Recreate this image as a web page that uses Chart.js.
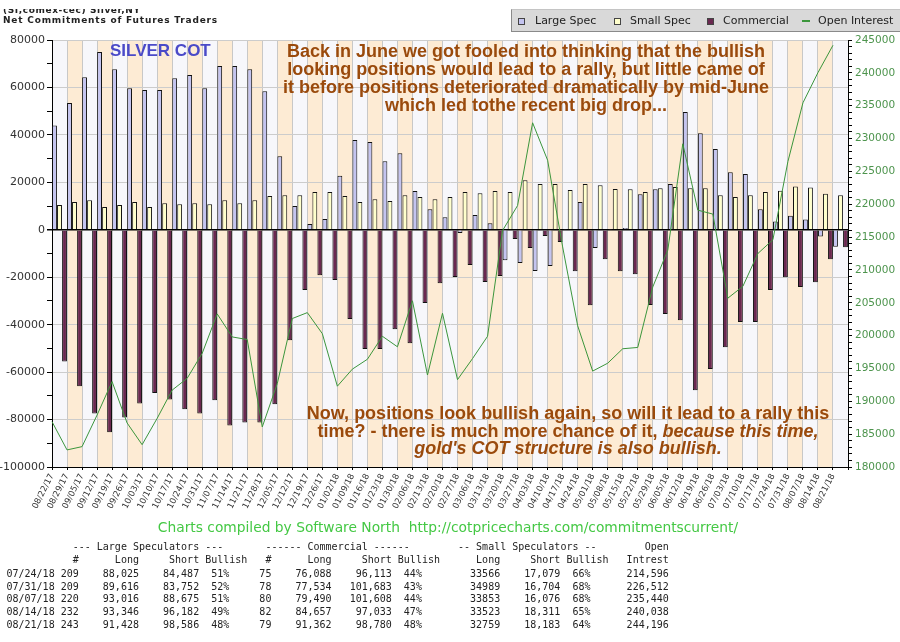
<!DOCTYPE html>
<html>
<head>
<meta charset="utf-8">
<script src="https://cdn.jsdelivr.net/npm/chart.js@4.4.1/dist/chart.umd.min.js"></script>
<style>
html,body{margin:0;padding:0;background:#fff;}
body{width:900px;height:642px;overflow:hidden;position:relative;font-family:"DejaVu Sans",sans-serif;}
#c{position:absolute;left:0;top:0;}
.ov{position:absolute;white-space:pre;}
.brown{font-family:"Liberation Sans",Arial,sans-serif;font-weight:bold;font-size:18px;color:#9a4a0c;text-align:center;white-space:pre;position:absolute;}
.leg{position:absolute;top:0;height:21px;line-height:21px;font-size:11px;color:#222;font-family:"DejaVu Sans",sans-serif;}
.ico{position:absolute;top:8px;width:5px;height:5px;border:1px solid #444;}
.tb{position:absolute;left:6.5px;font-family:"DejaVu Sans Mono",monospace;font-size:10px;line-height:12px;height:12px;color:#222;white-space:pre;}
</style>
</head>
<body>
<canvas id="c" width="900" height="642"></canvas>

<div class="ov" style="left:3px;top:9px;height:7px;overflow:hidden;"><div style="position:relative;top:-3px;font:bold 9px 'DejaVu Sans';line-height:9px;letter-spacing:0.6px;color:#222;">(SI,comex-cec) Silver,NY</div></div>
<div class="ov" style="left:3px;top:15.7px;font:bold 9px 'DejaVu Sans';line-height:9px;letter-spacing:0.8px;color:#222;">Net Commitments of Futures Traders</div>

<div id="legend" style="position:absolute;left:511px;top:9px;width:389px;height:21px;background:#d9d9d9;border-left:1px solid #8a8a8a;border-bottom:1px solid #8a8a8a;border-top:1px solid #c4c4c4;">
  <div class="ico" style="left:6px;background:#c4c4f0;"></div><div class="leg" style="left:23px;">Large Spec</div>
  <div class="ico" style="left:102px;background:#ffffcc;"></div><div class="leg" style="left:118px;">Small Spec</div>
  <div class="ico" style="left:195px;background:#6a2850;"></div><div class="leg" style="left:211px;">Commercial</div>
  <div style="position:absolute;left:290px;top:10px;width:8px;height:2px;background:#3c963c;"></div><div class="leg" style="left:306px;">Open Interest</div>
</div>

<div class="ov" style="left:110px;top:42.1px;font-family:'Liberation Sans',Arial,sans-serif;font-weight:bold;font-size:17px;line-height:18px;color:#4a4ac8;">SILVER COT</div>

<div class="brown" style="left:226px;width:600px;top:41.8px;line-height:18px;">Back in June we got fooled into thinking that the bullish
looking positions would lead to a rally, but little came of
it before positions deteriorated dramatically by mid-June
which led tothe recent big drop...</div>

<div class="brown" style="left:268px;width:600px;top:405px;line-height:17.5px;">Now, positions look bullish again, so will it lead to a rally this
time? - there is much more chance of it, <i>because this time,</i>
<i>gold's COT structure is also bullish.</i></div>

<div class="ov" style="left:0;width:900px;top:517.5px;text-align:center;font-family:'DejaVu Sans';font-size:13.8px;line-height:18px;color:#44c844;"><span style="position:relative;left:-2px;">Charts compiled by Software North  http://cotpricecharts.com/commitmentscurrent/</span></div>

<div id="table"></div>

<script>
// ---------------- data ----------------
const dates = ['08/22/17','08/29/17','09/05/17','09/12/17','09/19/17','09/26/17','10/03/17','10/10/17','10/17/17','10/24/17','10/31/17','11/07/17','11/14/17','11/21/17','11/28/17','12/05/17','12/12/17','12/19/17','12/26/17','01/02/18','01/09/18','01/16/18','01/23/18','01/30/18','02/06/18','02/13/18','02/20/18','02/27/18','03/06/18','03/13/18','03/20/18','03/27/18','04/03/18','04/10/18','04/17/18','04/24/18','05/01/18','05/08/18','05/15/18','05/22/18','05/29/18','06/05/18','06/12/18','06/19/18','06/26/18','07/03/18','07/10/18','07/17/18','07/24/18','07/31/18','08/07/18','08/14/18','08/21/18'];

const largeSpec = [44000,53400,64350,74900,67700,59700,58900,58900,63900,65200,59700,69000,69000,67700,58400,31000,10000,2400,4500,22800,37800,36950,28900,32300,16300,8700,5300,-1400,6200,2800,-12800,-14050,-17400,-15300,200,11700,-7700,200,800,15000,17100,19250,49600,40700,34000,24300,23500,8700,3538,5864,4341,-2836,-7158];

const smallSpec = [10400,11700,12500,9550,10400,11700,9550,11200,10800,11200,10800,12500,11200,12500,14200,14600,14600,15900,15900,14200,11700,12900,12100,14600,13800,12900,13800,15900,15450,16300,15900,20900,19250,19250,16800,19250,18800,17200,17100,15900,17550,18000,17550,17550,14600,13800,14600,15900,16487,18285,17777,15212,14576];

const commercial = [-55500,-66000,-77400,-85400,-79100,-73200,-68800,-71500,-75700,-77400,-71900,-82500,-81200,-81200,-73600,-46600,-25400,-19200,-21200,-37650,-50300,-50300,-41900,-47800,-30900,-22500,-19950,-14900,-22050,-19500,-3900,-7700,-2600,-5200,-17500,-31800,-12400,-17500,-18700,-31750,-35500,-38100,-67600,-58700,-49500,-38900,-38900,-25400,-20025,-24149,-22118,-12376,-7418];

const openInterest = [186900,182600,183100,187900,193000,186700,183400,187400,191700,193500,197300,203300,199800,199400,186100,192700,202600,203500,200300,192300,194900,196400,199900,198300,205300,194000,203400,193300,196500,199900,216000,219800,232400,226700,213500,201500,194600,195800,198000,198200,207400,213000,229200,219100,218500,205700,207500,212500,214596,226512,235440,240038,244196];

// table values
const tableDates = ['07/24/18','07/31/18','08/07/18','08/14/18','08/21/18'];
const lsNum   = ['209','209','220','232','243'];
const lsLong  = ['88,025','89,616','93,016','93,346','91,428'];
const lsShort = ['84,487','83,752','88,675','96,182','98,586'];
const lsBull  = ['51%','52%','51%','49%','48%'];
const cmNum   = ['75','78','80','82','79'];
const cmLong  = ['76,088','77,534','79,490','84,657','91,362'];
const cmShort = ['96,113','101,683','101,608','97,033','98,780'];
const cmBull  = ['44%','43%','44%','47%','48%'];
const ssLong  = ['33566','34989','33853','33523','32759'];
const ssShort = ['17,079','16,704','16,076','18,311','18,183'];
const ssBull  = ['66%','68%','68%','65%','64%'];
const oiTable = ['214,596','226,512','235,440','240,038','244,196'];

// ---------------- table text ----------------
function line(parts){ // parts: [text, col, 'L'|'R']
  const arr = new Array(112).fill(' ');
  parts.forEach(([t,c,a])=>{
    const start = a==='R' ? c - t.length + 1 : c;
    for(let k=0;k<t.length;k++) arr[start+k]=t[k];
  });
  return arr.join('').replace(/\s+$/,'');
}
const lines = [];
lines.push(line([['--- Large Speculators ---',11,'L'],['------ Commercial ------',43,'L'],['-- Small Speculators --',75,'L'],['Open',109,'R']]));
lines.push(line([['#',11,'R'],['Long',21,'R'],['Short',31,'R'],['Bullish',33,'L'],['#',43,'R'],['Long',53,'R'],['Short',63,'R'],['Bullish',65,'L'],['Long',81,'R'],['Short',91,'R'],['Bullish',93,'L'],['Intrest',109,'R']]));
for(let i=0;i<tableDates.length;i++){
  lines.push(line([[tableDates[i],0,'L'],[lsNum[i],11,'R'],[lsLong[i],21,'R'],[lsShort[i],31,'R'],[lsBull[i],36,'R'],[cmNum[i],43,'R'],[cmLong[i],53,'R'],[cmShort[i],63,'R'],[cmBull[i],68,'R'],[ssLong[i],81,'R'],[ssShort[i],91,'R'],[ssBull[i],96,'R'],[oiTable[i],109,'R']]));
}
const rowCenters = [546.7,560,574,586.7,599.3,612.3,625];
const tbl = document.getElementById('table');
lines.forEach((t,i)=>{
  const d = document.createElement('div');
  d.className='tb';
  d.style.top = (rowCenters[i]-6)+'px';
  d.textContent = t;
  tbl.appendChild(d);
});

// ---------------- chart ----------------
// alternating week bands behind the plot
const bandPlugin = {
  id:'bands',
  beforeDraw(chart){
    const {ctx, chartArea:a, scales} = chart;
    const x = scales.x;
    const w = x.getPixelForValue(1) - x.getPixelForValue(0);
    ctx.save();
    for(let i=0;i<dates.length;i++){
      const c = x.getPixelForValue(i);
      ctx.fillStyle = (i%2) ? '#fdebd4' : '#f7f7fb';
      ctx.fillRect(c - w/2, a.top, w, a.bottom - a.top);
    }
    ctx.restore();
  }
};
// open-interest points sit on the week tick (slot start) rather than the slot centre
const lineShift = {
  id:'lineShift',
  beforeDatasetDraw(chart, args){
    if (args.index !== 0) return;
    const x = chart.scales.x;
    chart.ctx.save();
    chart.ctx.translate(-(x.getPixelForValue(1) - x.getPixelForValue(0))/2, 0);
  },
  afterDatasetDraw(chart, args){
    if (args.index !== 0) return;
    chart.ctx.restore();
  }
};

const barCommon = {xAxisID:'x', yAxisID:'y', borderColor:'#111', borderWidth:1, categoryPercentage:1.0, barPercentage:0.97, order:1};

new Chart(document.getElementById('c'), {
  type:'bar',
  data:{
    labels: dates,
    datasets:[
      {type:'line', label:'Open Interest', data: openInterest, xAxisID:'x', yAxisID:'y2', borderColor:'#3c963c', borderWidth:1, pointRadius:0, tension:0, order:0},
      Object.assign({label:'Large Spec', data: largeSpec, backgroundColor:'#c4c4f0'}, barCommon),
      Object.assign({label:'Small Spec', data: smallSpec, backgroundColor:'#ffffcc'}, barCommon),
      Object.assign({label:'Commercial', data: commercial, backgroundColor:'#6a2850'}, barCommon)
    ]
  },
  options:{
    responsive:false,
    devicePixelRatio:1,
    animation:false,
    layout:{padding:{top:40,left:0,right:0,bottom:0}},
    plugins:{legend:{display:false}, tooltip:{enabled:false}},
    scales:{
      x:{
        type:'category', offset:true,
        grid:{offset:true, color:'#c8c8c8', lineWidth:1, tickLength:3, tickColor:'#000'},
        border:{color:'#000', width:1},
        ticks:{autoSkip:false, maxRotation:63, minRotation:63, padding:2, labelOffset:-7.5, color:'#333', font:{family:'DejaVu Sans', size:8.5}},
        afterFit(s){ s.height = 642-467; }
      },
      y:{
        position:'left', min:-100000, max:80000,
        ticks:{stepSize:10000, maxTicksLimit:100, autoSkip:false, padding:2, color:'#333', font:{family:'DejaVu Sans', size:11},
          callback:(v)=> (v%20000===0 ? String(v) : '')},
        grid:{
          color:(c)=> c.tick.value===0 ? '#000' : (c.tick.value%20000===0 ? '#cccccc' : 'rgba(0,0,0,0)'),
          lineWidth:(c)=> c.tick.value===0 ? 1.5 : 1,
          tickLength:5, tickColor:'#000'
        },
        border:{color:'#000', width:1},
        afterFit(s){ s.width = 52; }
      },
      y2:{
        position:'right', min:180000, max:245000,
        ticks:{stepSize:1000, maxTicksLimit:100, autoSkip:false, padding:3, color:'#4d944d', font:{family:'DejaVu Sans', size:10.5},
          callback:(v)=> (v%5000===0 ? String(v) : '')},
        grid:{drawOnChartArea:false, tickLength:4, tickColor:'#000'},
        border:{color:'#000', width:1},
        afterFit(s){ s.width = 52; }
      }
    }
  },
  plugins:[bandPlugin, lineShift]
});
</script>
</body>
</html>
